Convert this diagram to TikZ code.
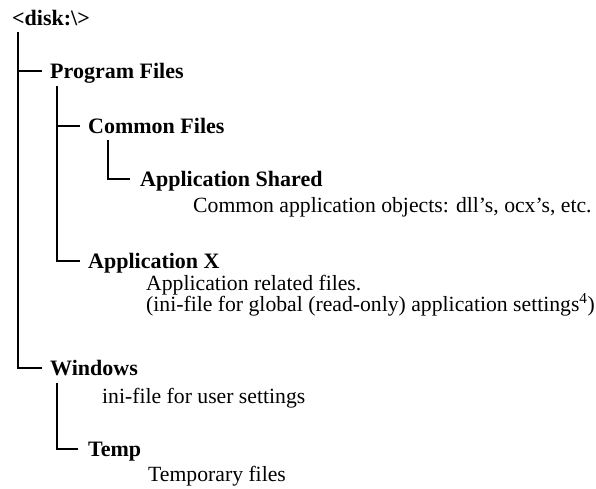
\documentclass[tikz,border=0pt]{standalone}
\usepackage{fontspec}
\setmainfont{Liberation Serif}
\begin{document}
\begin{tikzpicture}[x=1pt,y=-1pt,
  every node/.style={inner sep=0pt, anchor=base west, text height=16pt, text depth=2pt},
  dirname/.style={font=\fontsize{22}{26}\selectfont\bfseries},
  desc/.style={font=\fontsize{21.7}{25}\selectfont},
  tree/.style={line width=1.7pt, black},
  thintree/.style={line width=1.1pt, black}]
\useasboundingbox (0,0) rectangle (596,488);
% nodes
\node[dirname] (disk) at (12,25) {<disk:\textbackslash>};
\node[dirname] (pf) at (50,78) {Program Files};
\node[dirname] (cf) at (88,133) {Common Files};
\node[dirname] (as) at (140,186) {Application Shared};
\node[desc] (asd) at (193,212) {Common application objects: dll’s, ocx’s, etc.};
\node[dirname] (ax) at (88,268) {Application X};
\node[desc] (axd1) at (146,290) {Application related files.};
\node[desc] (axd2) at (146,311) {(ini-file for global (read-only) application settings\textsuperscript{4})};
\node[dirname] (win) at (50,375) {Windows};
\node[desc] (wind) at (102,403) {ini-file for user settings};
\node[dirname] (temp) at (88,456) {Temp};
\node[desc] (tempd) at (148,481) {Temporary files};
% trunk tops
\coordinate (t0) at (18,32);
\coordinate (t1) at (57,86);
\coordinate (t2) at (108,140);
\coordinate (t3) at (57,383);
% connectors
\draw[tree] (t0) |- ([xshift=-8pt]pf.west);
\draw[tree] (t0) |- ([xshift=-8pt]win.west);
\draw[tree] (t1) |- ([xshift=-8pt]cf.west);
\draw[tree] (t1) |- ([xshift=-8pt]ax.west);
\draw[tree] (t2) |- ([xshift=-10pt]as.west);
\draw[thintree] (t3) |- ([xshift=-10pt]temp.west);
\end{tikzpicture}
\end{document}
